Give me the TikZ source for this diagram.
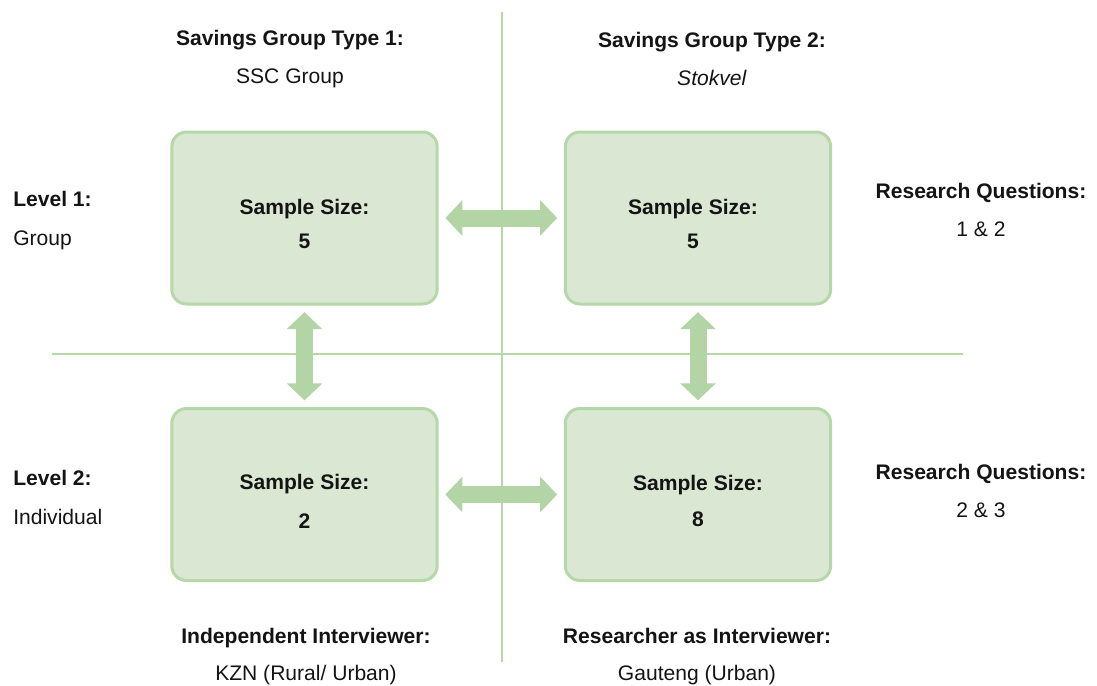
\documentclass[tikz,border=0pt]{standalone}
\usepackage{fontspec}
\setmainfont{Liberation Sans}
\usetikzlibrary{arrows.meta}
\definecolor{boxfill}{HTML}{DAE8D3}
\definecolor{boxline}{HTML}{B6D7A8}
\definecolor{arrowfill}{HTML}{B3D4A4}
\definecolor{ink}{HTML}{141414}
\tikzset{
  sample/.style={draw=boxline, line width=2.25pt, fill=boxfill, rounded corners=11pt,
    minimum width=199pt, minimum height=129pt},
  sampletext/.style={text=ink, align=center,
    font=\fontsize{15.8}{26}\selectfont\bfseries},
  label/.style={text=ink, align=center, font=\fontsize{15.8}{28}\selectfont},
  sideleft/.style={text=ink, align=left, anchor=west, inner sep=0pt, font=\fontsize{15.8}{29}\selectfont},
  divider/.style={draw=boxline, line width=1.5pt},
  bigarrow/.style={draw=arrowfill, line width=12.75pt,
    {Triangle[width=26pt,length=12.75pt]}-{Triangle[width=26pt,length=12.75pt]},
    shorten <=5pt, shorten >=5pt}
}
\begin{document}
\begin{tikzpicture}[x=0.75pt,y=-0.75pt]
\useasboundingbox (0,0) rectangle (1097,686);

% quadrant dividers
\coordinate (vtop) at (502,12);
\coordinate (vbot) at (502,662);
\coordinate (hleft) at (52,354);
\coordinate (hright) at (963,354);
\draw[divider] (vtop) -- (vbot);
\draw[divider] (hleft) -- (hright);

% sample boxes
\node[sample] (tl) at (304.5,218) {};
\node[sample] (tr) at (698,218) {};
\node[sample] (bl) at (304.5,494.5) {};
\node[sample] (br) at (698,494.5) {};

% sample sizes inside the boxes
\node[sampletext] (tlt) at ([yshift=-4.5pt]tl.center) {Sample Size:\\5};
\node[sampletext] (trt) at ([xshift=-3.75pt,yshift=-4.5pt]tr.center) {Sample Size:\\5};
\node[sampletext] (blt) at ([yshift=-5.25pt]bl.center) {Sample Size:\\[3pt]2};
\node[sampletext] (brt) at ([yshift=-4.5pt]br.center) {Sample Size:\\[1pt]8};

% double-headed connectors
\draw[bigarrow] (tl) -- (tr);
\draw[bigarrow] (bl) -- (br);
\draw[bigarrow] (tl) -- (bl);
\draw[bigarrow] (tr) -- (br);

% column headings
\node[label] (h1) at (290,59) {\textbf{Savings Group Type 1:}\\SSC Group};
\node[label] (h2) at (712,59) {\textbf{Savings Group Type 2:}\\\textit{Stokvel}};

% row headings
\node[sideleft] (r1) at (13,220.5) {\textbf{Level 1:}\\Group};
\node[sideleft] (r2) at (13,497.5) {\textbf{Level 2:}\\Individual};

% research questions
\node[label] (q1) at (981,210) {\textbf{Research Questions:}\\1 \& 2};
\node[label] (q2) at (981,491) {\textbf{Research Questions:}\\2 \& 3};

% interviewer notes
\node[label] (f1) at (306,656.5) {\textbf{Independent Interviewer:}\\KZN (Rural/ Urban)};
\node[label] (f2) at (697,656.5) {\textbf{Researcher as Interviewer:}\\Gauteng (Urban)};
\end{tikzpicture}
\end{document}
